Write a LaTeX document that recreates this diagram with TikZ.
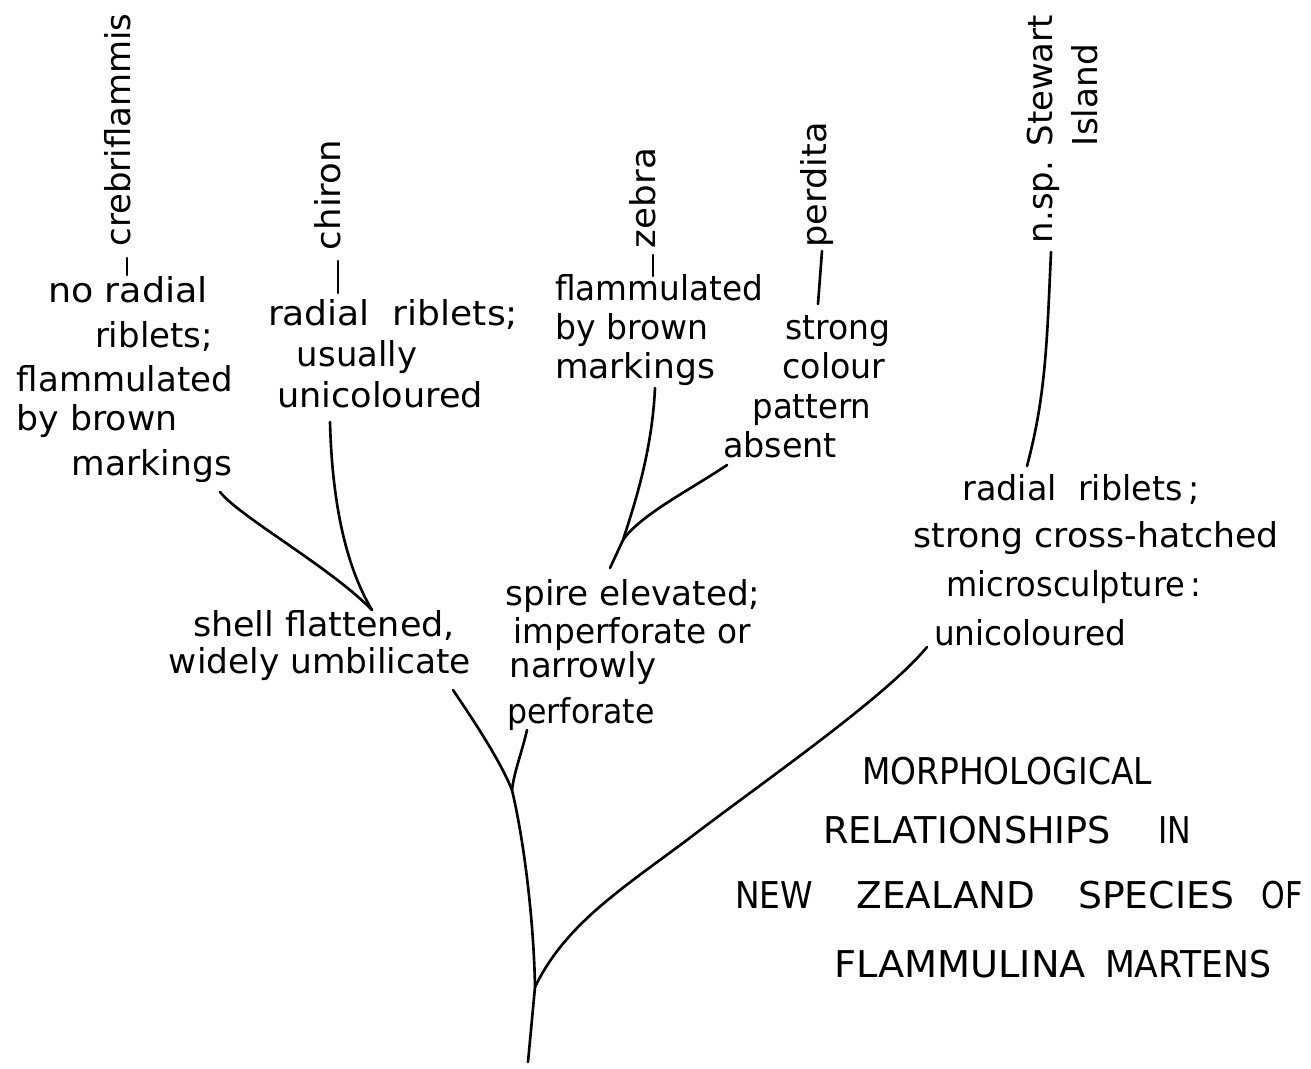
\documentclass[tikz,border=0pt]{standalone}
\usepackage{fontspec}
\setmainfont{DejaVu Sans}
\usepackage{graphicx}
\newdimen\pxu \pxu=0.02cm
\newcommand\fitw[2]{\resizebox{#1\pxu}{\height}{#2}}
\begin{document}
\begin{tikzpicture}[x=0.02cm,y=-0.02cm,
  lbl/.style={anchor=base,inner sep=0pt,font=\fontsize{19.5}{24}\selectfont},
  vlbl/.style={lbl,rotate=90},
  ttl/.style={anchor=base,inner sep=0pt,font=\fontsize{21}{24}\selectfont},
  con/.style={line width=1.5pt,line cap=round,line join=round}]
\useasboundingbox (0,0) rectangle (1311,1068);

% species names (vertical)
\node[vlbl] (crebri) at (130,130) {\fitw{233}{crebriflammis}};
\node[vlbl] (chiron) at (340,195) {\fitw{110}{chiron}};
\node[vlbl] (zebra) at (655,198) {\fitw{100}{zebra}};
\node[vlbl] (perdita) at (826,185) {\fitw{125}{perdita}};
\node[vlbl] (nspa) at (1052,129) {\fitw{228}{n.sp. Stewart}};
\node[vlbl] (nspb) at (1097,95) {\fitw{102}{Island}};

% crebriflammis characters
\node[lbl] (cA1) at (128,302) {\fitw{160}{no radial}};
\node[lbl] (cA2) at (154,347) {\fitw{118}{riblets;}};
\node[lbl] (cA3) at (125,391) {\fitw{216}{flammulated}};
\node[lbl] (cA4) at (97,430) {\fitw{161}{by brown}};
\node[lbl] (cA5) at (152,475) {\fitw{160}{markings}};

% chiron characters
\node[lbl] (cB1) at (393,325) {\fitw{250}{radial\ \ riblets;}};
\node[lbl] (cB2) at (357,366) {\fitw{120}{usually}};
\node[lbl] (cB3) at (380,407) {\fitw{206}{unicoloured}};

% zebra characters
\node[lbl] (cC1) at (659,300) {\fitw{208}{flammulated}};
\node[lbl] (cC2) at (632,339) {\fitw{153}{by brown}};
\node[lbl] (cC3) at (635,378) {\fitw{160}{markings}};

% perdita characters
\node[lbl] (cD1) at (838,339) {\fitw{105}{strong}};
\node[lbl] (cD2) at (834,378) {\fitw{103}{colour}};
\node[lbl] (cD3) at (812,418) {\fitw{119}{pattern}};
\node[lbl] (cD4) at (780,457) {\fitw{114}{absent}};

% n.sp. characters
\node[lbl] (cE1) at (1081,500) {\fitw{237}{radial\ \ riblets\,;}};
\node[lbl] (cE2) at (1096,547) {\fitw{365}{strong cross-hatched}};
\node[lbl] (cE3) at (1074,596) {\fitw{255}{microsculpture\,:}};
\node[lbl] (cE4) at (1030,645) {\fitw{192}{unicoloured}};

% shell flattened
\node[lbl] (cF1) at (324,636) {\fitw{262}{shell\ flattened,}};
\node[lbl] (cF2) at (320,673) {\fitw{302}{widely umbilicate}};

% spire elevated
\node[lbl] (cG1) at (633,605) {\fitw{255}{spire\ elevated;}};
\node[lbl] (cG2) at (632,643) {\fitw{237}{imperforate or}};
\node[lbl] (cG3) at (583,677) {\fitw{147}{narrowly}};
\node[lbl] (cG4) at (581,723) {\fitw{147}{perforate}};

% title
\node[ttl] (tt1) at (1007,784) {\fitw{290}{MORPHOLOGICAL}};
\node[ttl] (tt2) at (967,843) {\fitw{288}{RELATIONSHIPS}};
\node[ttl] (tt3) at (1175,843) {\fitw{33}{IN}};
\node[ttl] (tt4) at (774,908) {\fitw{78}{NEW}};
\node[ttl] (tt5) at (946,908) {\fitw{179}{ZEALAND}};
\node[ttl] (tt6) at (1156,908) {\fitw{156}{SPECIES}};
\node[ttl] (tt7) at (1282,908) {\fitw{41}{OF}};
\node[ttl] (tt8) at (960,977) {\fitw{252}{FLAMMULINA}};
\node[ttl] (tt9) at (1188,977) {\fitw{166}{MARTENS}};

% connector end points
\coordinate (crebriE) at (127,258); \coordinate (cAtop) at (127,275);
\coordinate (chironE) at (338,261); \coordinate (cBtop) at (338,293);
\coordinate (zebraE) at (653,255); \coordinate (cCtop) at (653,276);
\coordinate (perditaE) at (822,251); \coordinate (cDtop) at (818,304);
\coordinate (nspE) at (1051,252); \coordinate (cEtop) at (1027,466);
\coordinate (cAbot) at (220,492); \coordinate (cBbot) at (330,422);
\coordinate (J1) at (372,610);
\coordinate (cCbot) at (655,388); \coordinate (cDbot) at (727,465);
\coordinate (J2) at (623,540); \coordinate (J2s) at (610,568);
\coordinate (cFbot) at (453,690); \coordinate (cGbot) at (527,730);
\coordinate (J3) at (512,790);
\coordinate (R) at (535,987); \coordinate (root0) at (528,1062);
\coordinate (cEbot) at (927,647);

% connectors
\draw[con] (crebriE) -- (cAtop);
\draw[con] (chironE) -- (cBtop);
\draw[con] (zebraE) -- (cCtop);
\draw[con] (perditaE) -- (cDtop);
\draw[con] (nspE) .. controls (1047,340) and (1046,395) .. (cEtop);
\draw[con] (cAbot) .. controls (240,517) and (330,567) .. (J1);
\draw[con] (cBbot) .. controls (332,500) and (345,565) .. (J1);
\draw[con] (cCbot) .. controls (652,450) and (636,500) .. (J2) -- (J2s);
\draw[con] (cDbot) .. controls (690,490) and (640,515) .. (J2);
\draw[con] (cFbot) .. controls (472,718) and (500,760) .. (J3);
\draw[con] (cGbot) .. controls (522,752) and (514,772) .. (J3);
\draw[con] (J3) .. controls (526,850) and (534,930) .. (R) -- (root0);
\draw[con] (R) .. controls (565,925) and (620,890) .. (687,840)
  .. controls (760,784) and (885,698) .. (cEbot);
\end{tikzpicture}
\end{document}
